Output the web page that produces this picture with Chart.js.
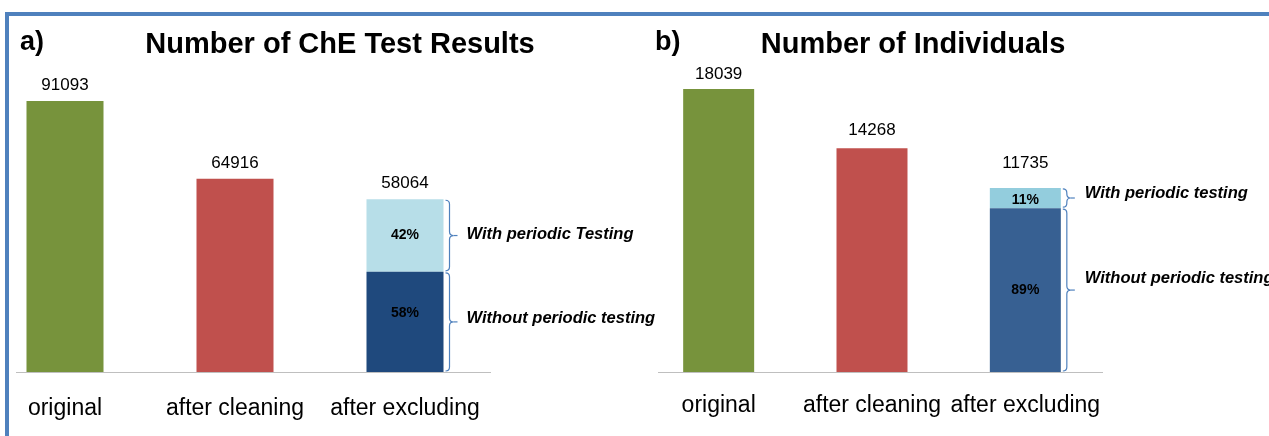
<!DOCTYPE html>
<html>
<head>
<meta charset="utf-8">
<script src="https://cdn.jsdelivr.net/npm/chart.js@4.4.1/dist/chart.umd.min.js"></script>
<style>
  html, body { margin:0; padding:0; background:#fff; }
  body { width:1269px; height:436px; position:relative; overflow:hidden; font-family:'Liberation Sans', Arial, sans-serif; }
  .frame-top { position:absolute; left:5px; top:12px; right:0; height:4px; background:#4F81BD; }
  .frame-left { position:absolute; left:5px; top:12px; bottom:0; width:4px; background:#4F81BD; }
  .title { position:absolute; top:26px; width:420px; text-align:center; font-weight:bold; font-size:29px; line-height:34px; color:#000; }
  .tag { position:absolute; top:24px; font-weight:bold; font-size:27px; line-height:34px; color:#000; }
  .clip { position:absolute; top:0; height:436px; overflow:hidden; }
  .clip canvas { position:absolute; top:0; }
</style>
</head>
<body>
<div class="frame-top"></div>
<div class="frame-left"></div>

<div class="clip" style="left:16px;width:664px;"><canvas id="chart-a" width="700" height="436" style="left:-36px;"></canvas></div>
<div class="clip" style="left:658px;width:611px;"><canvas id="chart-b" width="627" height="436" style="left:-16px;"></canvas></div>

<div class="tag" style="left:20px;">a)</div>
<div class="title" style="left:130px;">Number of ChE Test Results</div>
<div class="tag" style="left:655px;">b)</div>
<div class="title" style="left:703px;">Number of Individuals</div>

<script>
'use strict';

const categories = ['original', 'after cleaning', 'after excluding'];

// a) ChE test results
const testTotals = [91093, 64916, 58064];
const testShares = [58, 42];            // [without, with] periodic testing, %
const testShareNames = ['Without periodic testing', 'With periodic Testing'];

// b) individuals
const indivTotals = [18039, 14268, 11735];
const indivShares = [89, 11];
const indivShareNames = ['Without periodic testing', 'With periodic testing'];

const FONT = "'Liberation Sans', Arial, sans-serif";
Chart.defaults.font.family = FONT;
Chart.defaults.color = '#000';

function drawBrace(ctx, x, top, bottom, w) {
  const mid = (top + bottom) / 2;
  const r = Math.min(4, (bottom - top) / 4);
  const xm = x + w / 2;
  ctx.beginPath();
  ctx.moveTo(x, top);
  ctx.quadraticCurveTo(xm, top, xm, top + r);
  ctx.lineTo(xm, mid - r);
  ctx.quadraticCurveTo(xm, mid, x + w, mid);
  ctx.quadraticCurveTo(xm, mid, xm, mid + r);
  ctx.lineTo(xm, bottom - r);
  ctx.quadraticCurveTo(xm, bottom, x, bottom);
  ctx.stroke();
  ctx.beginPath();
  ctx.moveTo(x + w, mid);
  ctx.lineTo(x + w + 4, mid);
  ctx.stroke();
  return mid;
}

// labels, percentages and braces on top of the bars
const annotate = {
  id: 'annotate',
  afterDatasetsDraw(chart, args, o) {
    const ctx = chart.ctx;
    const base = chart.getDatasetMeta(0).data;
    const wo = chart.getDatasetMeta(1).data[2];
    const wi = chart.getDatasetMeta(2).data[2];
    ctx.save();
    ctx.textAlign = 'center';
    ctx.textBaseline = 'middle';
    ctx.fillStyle = '#000';

    ctx.font = '17px ' + FONT;
    o.totals.forEach((t, i) => {
      const bar = i < 2 ? base[i] : wi;
      ctx.fillText(String(t), bar.x, bar.y - o.valueGaps[i]);
    });

    ctx.font = 'bold 14px ' + FONT;
    [wo, wi].forEach((el, k) => {
      ctx.fillText(o.shares[k] + '%', el.x, (el.y + el.base) / 2 + o.pctDy[k]);
    });

    ctx.strokeStyle = '#4F81BD';
    ctx.lineWidth = 1.2;
    ctx.textAlign = 'left';
    ctx.font = 'italic bold 16.5px ' + FONT;
    [wo, wi].forEach((el, k) => {
      const x0 = el.x + el.width / 2 + 2;
      const mid = drawBrace(ctx, x0, el.y + 1, el.base - 1, 8);
      ctx.fillText(o.names[k], x0 + 12 + o.noteGap, mid + o.noteDy[k]);
    });
    ctx.restore();
  }
};

function makePanel(id, totals, shares, names, st) {
  const without = totals[2] * shares[0] / 100;
  const withP = totals[2] * shares[1] / 100;
  return new Chart(document.getElementById(id), {
    type: 'bar',
    data: {
      labels: categories,
      datasets: [
        { data: [totals[0], totals[1], null], backgroundColor: [st.green, st.red, st.red] },
        { data: [null, null, without], backgroundColor: st.dark },
        { data: [null, null, withP], backgroundColor: st.light }
      ]
    },
    options: {
      responsive: false,
      animation: false,
      events: [],
      layout: { padding: { top: st.padTop, right: st.padRight, left: 0, bottom: 0 } },
      datasets: { bar: { categoryPercentage: 1, barPercentage: st.barPct } },
      plugins: {
        legend: { display: false },
        tooltip: { enabled: false },
        annotate: {
          totals, shares, names,
          valueGaps: st.valueGaps, pctDy: st.pctDy, noteGap: st.noteGap, noteDy: st.noteDy
        }
      },
      scales: {
        x: {
          stacked: true,
          grid: { display: false, drawTicks: false },
          border: { display: true, color: '#BFBFBF', width: 1 },
          ticks: { font: { size: 23 }, color: '#000', padding: st.tickPad, autoSkip: false, maxRotation: 0 },
          afterFit: s => { s.height = 64; }
        },
        y: { stacked: true, display: false, min: 0, max: st.yMax }
      }
    },
    plugins: [annotate]
  });
}

makePanel('chart-a', testTotals, testShares, testShareNames, {
  green: '#77933C', red: '#C0504D', dark: '#1F497D', light: '#B7DEE8',
  yMax: 100000, padTop: 74.5, padRight: 190, barPct: 0.453, tickPad: 23,
  valueGaps: [16, 16, 16], pctDy: [-9, 0], noteGap: 9, noteDy: [-3, -1]
});

makePanel('chart-b', indivTotals, indivShares, indivShareNames, {
  green: '#77933C', red: '#C0504D', dark: '#376092', light: '#93CDDD',
  yMax: 20000, padTop: 58.2, padRight: 167, barPct: 0.463, tickPad: 20,
  valueGaps: [15, 18, 25], pctDy: [0, 2], noteGap: 10, noteDy: [-12, -5]
});
</script>
</body>
</html>
